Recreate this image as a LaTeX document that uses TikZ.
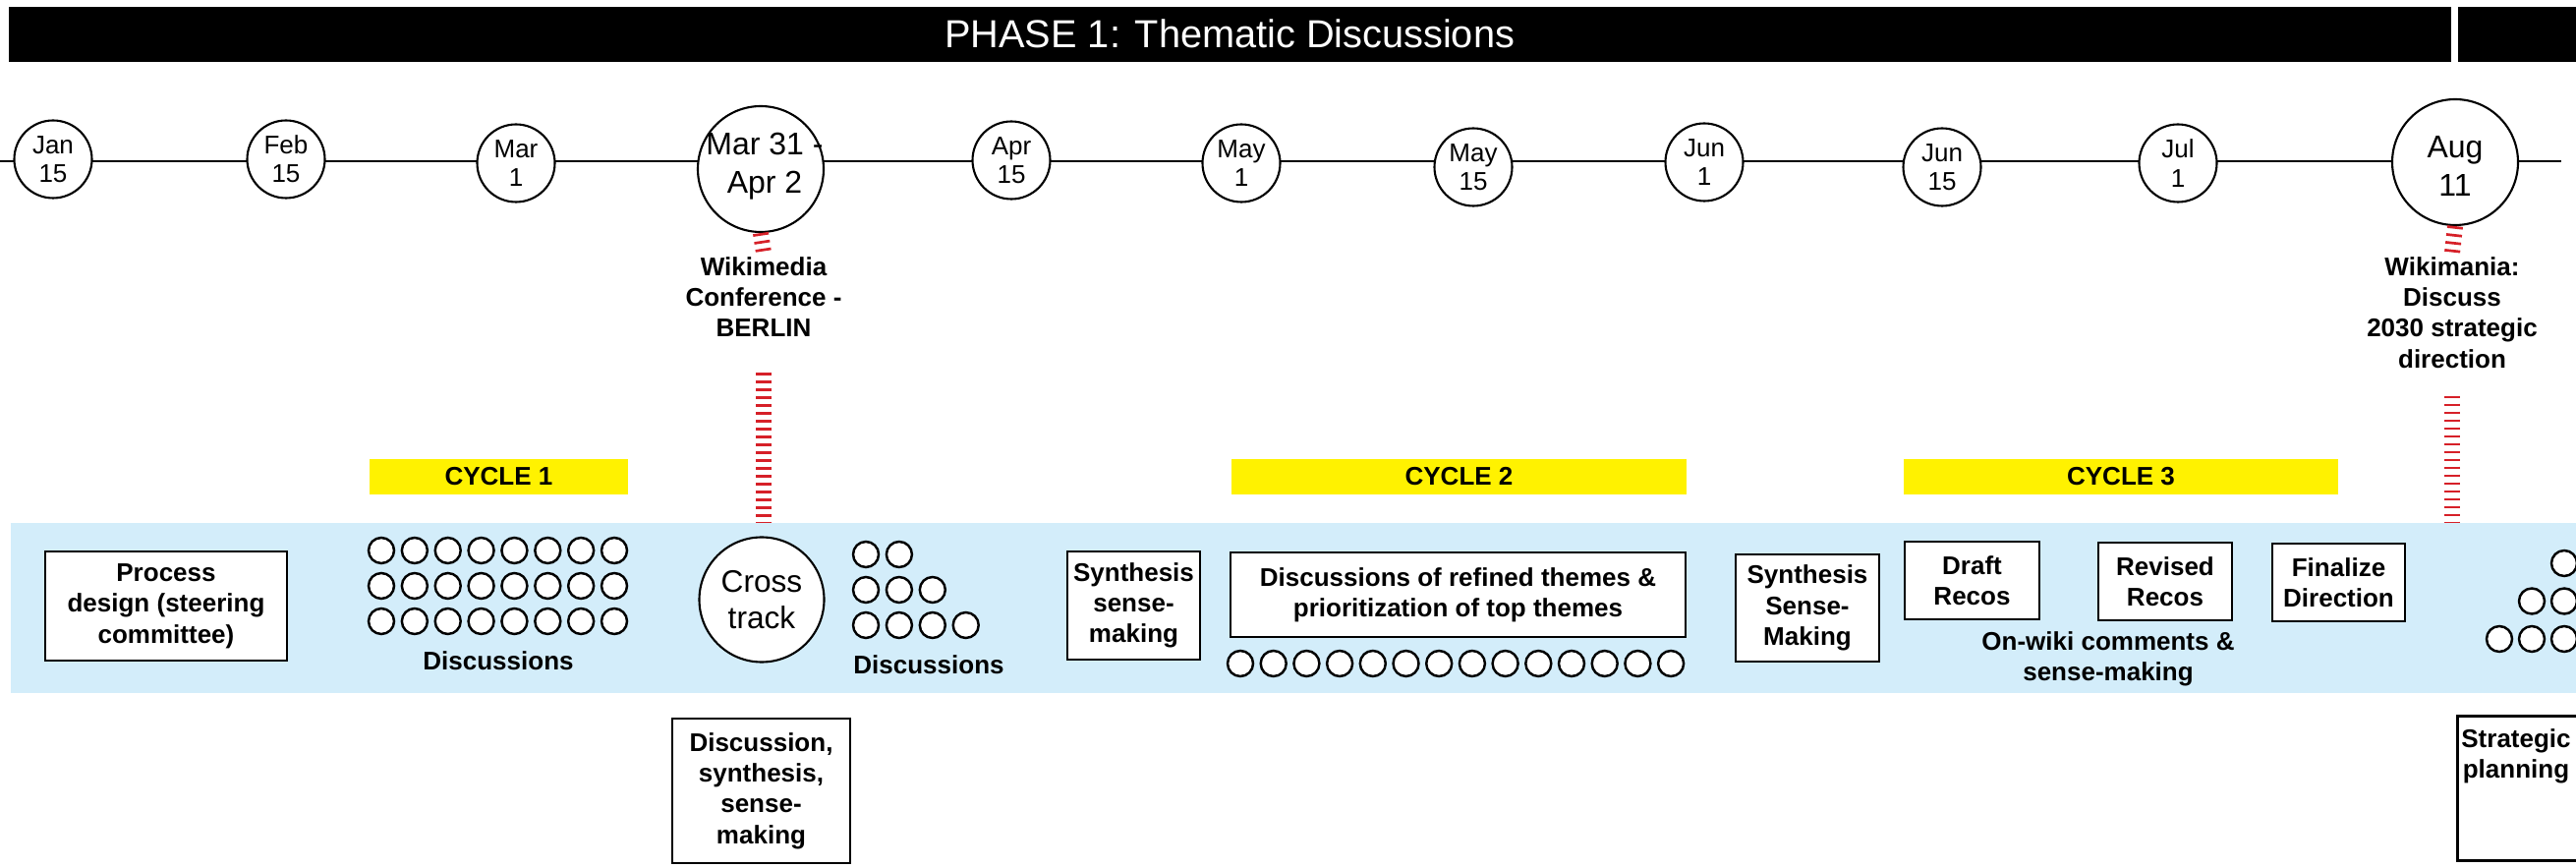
\documentclass[tikz,border=0pt]{standalone}
\usepackage{fontspec}
\setmainfont{Liberation Sans}
\usetikzlibrary{positioning,calc}

\definecolor{bandblue}{RGB}{211,237,250}
\definecolor{cycleyellow}{RGB}{255,242,0}
\definecolor{dashred}{RGB}{214,32,40}

\begin{document}
\begin{tikzpicture}[x=0.1mm,y=-0.1mm,
	date/.style={draw,circle,fill=white,line width=0.6pt,minimum size=7.9mm,inner sep=0pt,align=center,font=\fontsize{7.4}{8.3}\selectfont},
	bigdate/.style={draw,circle,fill=white,line width=0.6pt,minimum size=12.8mm,inner sep=0pt},
	bigtext/.style={align=center,inner sep=0pt,font=\fontsize{9.1}{11}\selectfont},
	stepbox/.style={draw,fill=white,line width=0.75pt,inner sep=1pt,align=center,font=\fontsize{7.4}{8.9}\selectfont\bfseries},
	lbl/.style={align=center,inner sep=1pt,font=\fontsize{7.4}{8.9}\selectfont\bfseries},
	cyclebar/.style={fill=cycleyellow,minimum height=3.6mm,inner sep=0pt,font=\fontsize{7.4}{8.9}\selectfont\bfseries},
	dot/.style={draw,circle,fill=white,line width=0.7pt,minimum size=2.6mm,inner sep=0pt},
	reddash/.style={draw=dashred,line width=1.6mm,dash pattern=on 0.27mm off 0.53mm}]
		\useasboundingbox (0,0) rectangle (2621,883);
		\clip (0,0) rectangle (2621,883);
		%draw phase bar
		\node[fill=black,minimum width=248.5mm,minimum height=5.6mm,inner sep=0pt,anchor=north west,text=white,font=\fontsize{11.3}{13}\selectfont] (phase1) at (8,6) {PHASE 1: Thematic Discussions};
		\node[fill=black,minimum width=13mm,minimum height=5.6mm,inner sep=0pt,anchor=north west] (phase2) at (2500,6) {};
		%draw horizontal line
		\coordinate (tlstart) at (0,164);
		\coordinate (tlend) at (2606,164);
		\draw[line width=0.6pt] (tlstart) -- (tlend);
		%draw dates
		\foreach \x/\y/\m/\d/\n in {54/162/Jan/15/jan, 291/162/Feb/15/feb, 525/166/Mar/1/mar, 1029/163/Apr/15/apr, 1263/166/May/1/maya, 1499/170/May/15/mayb, 1734/165/Jun/1/juna, 1976/170/Jun/15/junb, 2216/166/Jul/1/jul}{
			\node[date] (\n) at (\x,\y) {\m\\\d};
		}
		\node[bigdate] (mar31) at (774,172) {};
		\node[bigtext] (mar31t) at (778,169) {Mar 31 -\\Apr 2};
		\node[bigdate] (aug11) at (2498,165) {};
		\node[bigtext] (aug11t) at (2498,169) {Aug\\11};
		%draw band
		\node[fill=bandblue,anchor=north west,minimum width=261.1mm,minimum height=17.3mm,inner sep=0pt] (band) at (10,531) {};
		%draw cycles
		\node[cyclebar,minimum width=26.3mm] (cyc1) at (507.5,485) {CYCLE 1};
		\node[cyclebar,minimum width=46.3mm] (cyc2) at (1484.5,485) {CYCLE 2};
		\node[cyclebar,minimum width=44.2mm] (cyc3) at (2158,485) {CYCLE 3};
		%draw events
		\node[lbl] (wmc) at (777,302) {Wikimedia\\Conference -\\BERLIN};
		\node[lbl] (wmn) at (2495,318) {Wikimania:\\Discuss\\2030 strategic\\direction};
		\coordinate[below=3.2mm of wmc] (wmcfoot);
		\coordinate[below=2.4mm of wmn] (wmnfoot);
		\draw[reddash] (mar31.south) -- (wmc.north);
		\draw[reddash] (wmcfoot) -- (wmcfoot |- band.north);
		\draw[reddash] (aug11.south) -- (wmn.north);
		\draw[reddash] (wmnfoot) -- (wmnfoot |- band.north);
		%draw cycle 1
		\node[stepbox,minimum width=24.6mm,minimum height=11.1mm] (design) at (169,616.5) {Process\\design (steering\\committee)};
		\foreach \r in {0,1,2}
			\foreach \c in {0,...,7}
				\node[dot] (da\r\c) at ({388+33.86*\c},{560+36*\r}) {};
		\node[lbl] (disc1) at (507,672) {Discussions};
		\node[bigdate,minimum size=12.7mm,align=center,font=\fontsize{9}{10.5}\selectfont] (cross) at (775,610) {Cross\\track};
		\foreach \r/\n in {0/1,1/2,2/3}
			\foreach \c in {0,...,\n}
				\node[dot] (db\r\c) at ({881+33.9*\c},{564+36*\r}) {};
		\node[lbl] (disc2) at (945,676) {Discussions};
		\node[stepbox,minimum width=18.1mm,minimum height=14.7mm] (discsyn) at (774.5,804.5) {Discussion,\\synthesis,\\sense-\\making};
		%draw cycle 2
		\node[stepbox,minimum width=13.5mm,minimum height=11mm] (synth1) at (1153.5,616) {Synthesis\\sense-\\making};
		\node[stepbox,minimum width=46.3mm,minimum height=8.6mm] (refined) at (1483.5,605) {Discussions of refined themes \&\\prioritization of top themes};
		\foreach \c in {0,...,13}
			\node[dot] (dc\c) at ({1262+33.7*\c},675) {};
		%draw cycle 3
		\node[stepbox,minimum width=14.6mm,minimum height=10.9mm] (synth2) at (1839,618.5) {Synthesis\\Sense-\\Making};
		\node[stepbox,minimum width=13.7mm,minimum height=7.9mm] (draft) at (2006.5,590.5) {Draft\\Recos};
		\node[stepbox,minimum width=13.6mm,minimum height=7.9mm] (revised) at (2203,591.5) {Revised\\Recos};
		\node[stepbox,minimum width=13.5mm,minimum height=7.9mm] (final) at (2379.5,592.5) {Finalize\\Direction};
		\node[lbl] (onwiki) at (2145,670) {On-wiki comments \&\\sense-making};
		%draw next phase
		\foreach \r/\n in {0/1,1/2,2/3}
			\foreach \c in {0,...,\n}
				\node[dot] (dd\r\c) at ({2609-33*\r+33*\c},{573+38.5*\r}) {};
		\node[draw,line width=0.75pt,fill=white,minimum width=13mm,minimum height=14.7mm,anchor=north west,inner sep=0pt] (strat) at (2499,727) {};
		\node[lbl,anchor=north] (stratt) at (2560,737) {Strategic\\planning};
\end{tikzpicture}
\end{document}
